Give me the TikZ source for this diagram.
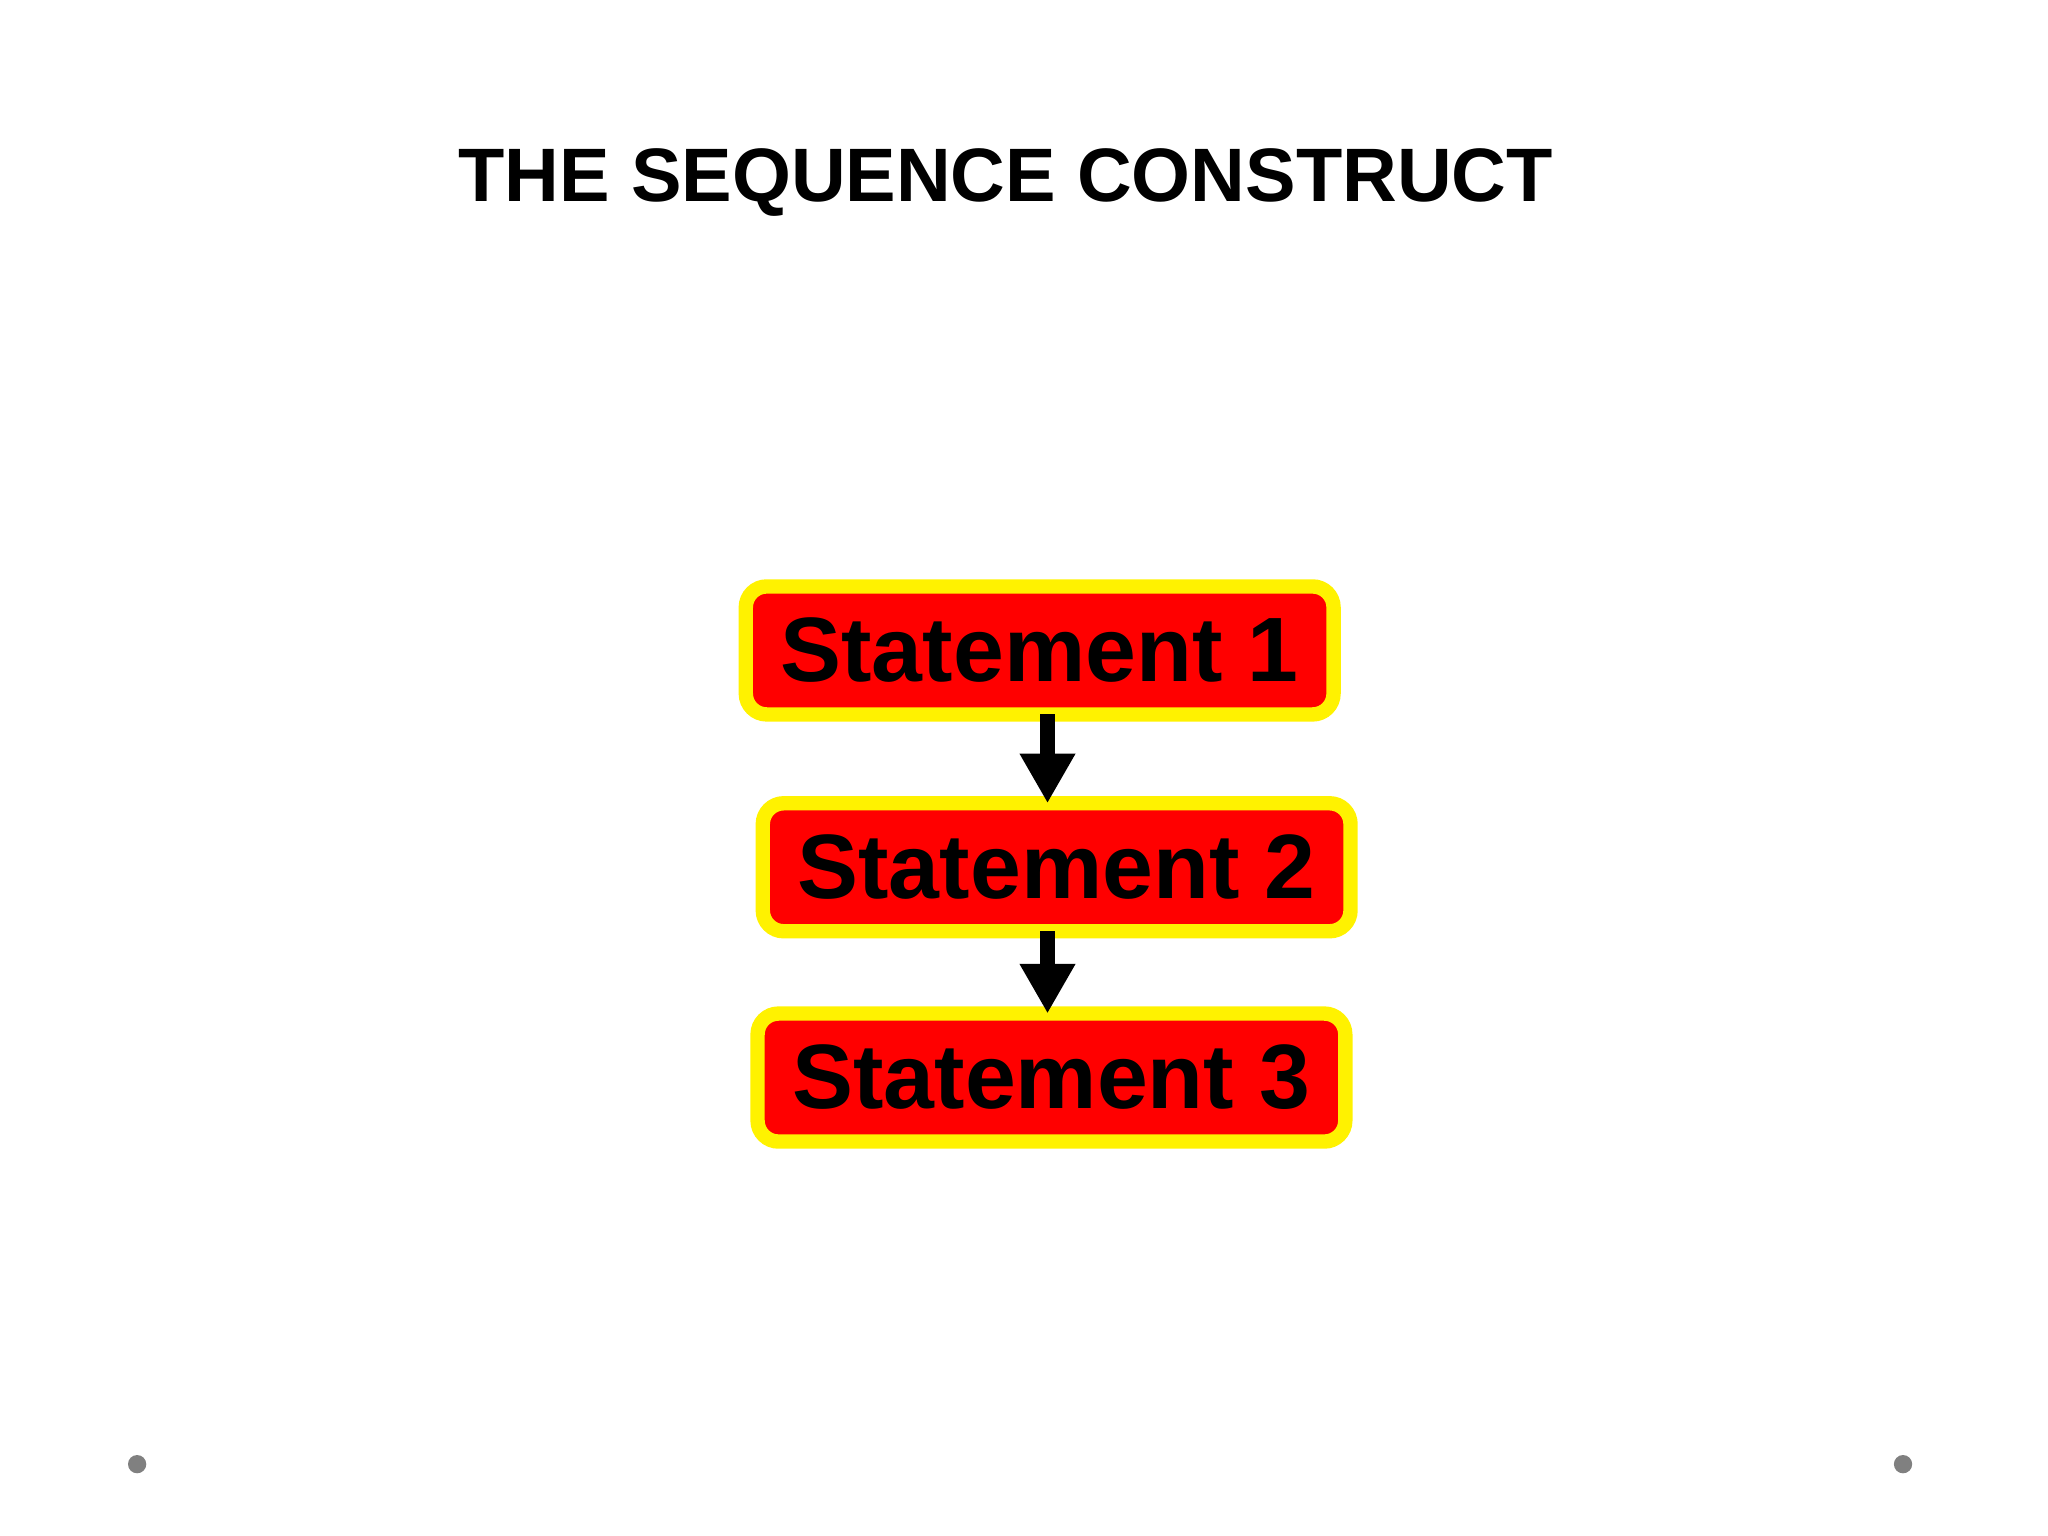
\documentclass[tikz,border=0pt]{standalone}
\usepackage{fontspec}
\setmainfont{Liberation Sans}
\usetikzlibrary{arrows.meta}
\begin{document}
\begin{tikzpicture}[x=0.5pt,y=-0.5pt,
  stmt/.style={fill=red,draw=yellow,line width=5.5pt,rounded corners=8pt,
    font=\bfseries\fontsize{35}{37}\selectfont,inner sep=0pt,minimum height=49pt,outer sep=0pt},
  arr/.style={line width=6pt,-{Triangle[width=20pt,length=19pt]}}]
\useasboundingbox (0,0) rectangle (1568,1176);
\node[font=\bfseries\fontsize{29}{31}\selectfont] (title) at (770,140) {THE SEQUENCE CONSTRUCT};
\node[stmt,minimum width=225pt] (s1) at (796,498) {Statement 1};
\node[stmt,minimum width=225pt] (s2) at (809,664) {Statement 2};
\node[stmt,minimum width=225pt] (s3) at (805,825) {Statement 3};
\coordinate (ax) at (802,0);
\draw[arr] (s1.south -| ax) -- (s2.north -| ax);
\draw[arr] (s2.south -| ax) -- (s3.north -| ax);
\fill[gray] (105,1121) circle (3.5pt);
\fill[gray] (1457,1121) circle (3.5pt);
\end{tikzpicture}
\end{document}
